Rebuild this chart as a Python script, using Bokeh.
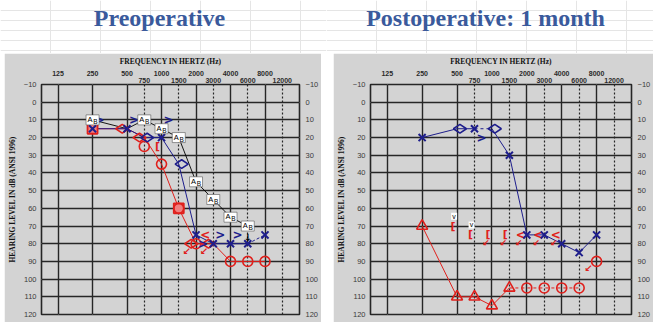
import math
from bokeh.plotting import figure
from bokeh.models import ColumnDataSource, Range1d, LinearAxis, FixedTicker, Grid, Spacer
from bokeh.layouts import row, column
from bokeh.core.properties import value
from bokeh.embed import file_html
from bokeh.resources import INLINE

# ---------------- tick labels / texts ----------------
octave_freqs = [125, 250, 500, 1000, 2000, 4000, 8000]
half_freqs = [750, 1500, 3000, 6000, 12000]
db_ticks = list(range(-10, 121, 10))
panel_titles = ["Preoperative", "Postoperative: 1 month"]
x_title = "FREQUENCY IN HERTZ (Hz)"
y_title = "HEARING LEVEL IN dB (ANSI 1996)"

# ---------------- Preoperative ----------------
pre_left_line_freq = [250, 500, 750, 1000, 1500, 2000, 3000, 4000, 6000]
pre_left_line_db = [15, 15, 20, 20, 35, 75, 80, 80, 80]
pre_left_dash_freq = [6000, 8000]
pre_left_dash_db = [80, 75]
pre_left_x_freq = [250, 500, 1000, 2000, 3000, 4000, 6000, 8000]
pre_left_x_db = [15, 15, 20, 75, 80, 80, 80, 75]
pre_left_diamond_freq = [750, 1500]
pre_left_diamond_db = [20, 35]
pre_left_bone_freq = [250, 500, 1000, 2000, 3000, 4000]
pre_left_bone_db = [10, 10, 10, 80, 75, 75]

pre_right_line_freq = [250, 500, 750, 1000, 1500, 2000, 3000, 4000, 6000, 8000]
pre_right_line_db = [15, 15, 20, 35, 60, 80, 80, 90, 90, 90]
pre_right_circle_freq = [750, 1000, 1500, 2000, 4000, 6000, 8000]
pre_right_circle_db = [25, 35, 60, 80, 90, 90, 90]
pre_right_square_freq = [250, 1500]
pre_right_square_db = [15, 60]
pre_right_diamond_freq = [500, 750, 2000, 3000]
pre_right_diamond_db = [15, 20, 80, 80]
pre_right_bone_freq = [3000]
pre_right_bone_db = [75]
pre_right_mbone_freq = [1000]
pre_right_mbone_db = [25]
pre_right_nr_freq = [2000, 3000]
pre_right_nr_db = [80, 80]

pre_aided_line_freq = [250, 500, 750, 1000, 1500, 2000, 3000, 4000, 6000]
pre_aided_line_db = [10, 15, 10, 15, 20, 45, 55, 65, 70]
pre_aided_box_freq = [250, 750, 1000, 1500, 2000, 3000, 4000, 6000]
pre_aided_box_db = [10, 10, 15, 20, 45, 55, 65, 70]
pre_aided_nr_freq = [6000]
pre_aided_nr_db = [70]

# ---------------- Postoperative: 1 month ----------------
post_left_line_freq = [250, 500, 750]
post_left_line_db = [20, 15, 15]
post_left_dash_freq = [750, 1000]
post_left_dash_db = [15, 15]
post_left_line2_freq = [1000, 1500, 2000, 3000, 4000, 6000, 8000]
post_left_line2_db = [15, 30, 75, 75, 80, 85, 75]
post_left_x_freq = [250, 750, 1500, 2000, 3000, 4000, 6000, 8000]
post_left_x_db = [20, 15, 30, 75, 75, 80, 85, 75]
post_left_diamond_freq = [500, 1000]
post_left_diamond_db = [15, 15]
post_left_bone_freq = [750]
post_left_bone_db = [20]

post_right_tri_freq = [250, 500, 750, 1000, 1500]
post_right_tri_db = [70, 110, 110, 115, 105]
post_right_dash_freq = [1500, 2000, 3000, 4000, 6000]
post_right_dash_db = [105, 105, 105, 105, 105]
post_right_circle_freq = [2000, 3000, 4000, 6000, 8000]
post_right_circle_db = [105, 105, 105, 105, 90]
post_right_nr_freq = [8000]
post_right_nr_db = [90]
post_right_mbone_freq = [500, 750, 1000, 1500]
post_right_mbone_db = [70, 75, 75, 75]
post_right_v_freq = [500, 750]
post_right_v_db = [70, 75]
post_right_mbone_nr_freq = [1000, 1500]
post_right_mbone_nr_db = [75, 75]
post_right_bone_freq = [2000, 3000, 4000]
post_right_bone_db = [75, 75, 75]

# ---------------- styling ----------------
RED = "#e0201c"
BLUE = "#1e1e8c"
GRAY = "#d3d3d3"
DARK = "#262626"
TITLE_BLUE = "#3a5a9c"
X0, X1 = -0.48, 7.0
Y0, Y1 = 120, -10


def pos(freqs):
    return [round(2 * math.log2(f / 125)) / 2 for f in freqs]


def audiogram(width, height, bl, br, bt, bb):
    p = figure(width=width, height=height, output_backend="svg", toolbar_location=None,
               x_range=Range1d(X0, X1), y_range=Range1d(Y0, Y1),
               x_axis_location=None, y_axis_location=None, title=None,
               min_border_left=bl, min_border_right=br, min_border_top=bt, min_border_bottom=bb)
    p.background_fill_color = GRAY
    p.border_fill_color = GRAY
    p.outline_line_color = DARK
    p.outline_line_width = 1.6

    p.add_layout(Grid(dimension=0, ticker=FixedTicker(ticks=pos(octave_freqs)),
                      grid_line_color=DARK, grid_line_width=1.4))
    p.add_layout(Grid(dimension=0, ticker=FixedTicker(ticks=pos(half_freqs)),
                      grid_line_color=DARK, grid_line_width=1.2, grid_line_dash="2 2"))
    p.add_layout(Grid(dimension=1, ticker=FixedTicker(ticks=db_ticks),
                      grid_line_color=DARK, grid_line_width=1.4))

    common = dict(axis_line_color=None, major_tick_line_color=None, minor_tick_line_color=None,
                  major_tick_out=0, major_tick_in=0)
    ly = LinearAxis(ticker=FixedTicker(ticks=db_ticks), axis_label=y_title,
                    major_label_text_font="Liberation Sans", major_label_text_font_size="7.5px",
                    major_label_text_color="#3a3a3a", major_label_standoff=5,
                    axis_label_text_font="Liberation Serif", axis_label_text_font_style="bold",
                    axis_label_text_font_size="7.5px", axis_label_text_color="#111111",
                    axis_label_standoff=4, **common)
    p.add_layout(ly, "left")
    ry = LinearAxis(ticker=FixedTicker(ticks=db_ticks),
                    major_label_text_font="Liberation Sans", major_label_text_font_size="7.5px",
                    major_label_text_color="#3a3a3a", major_label_standoff=6, **common)
    p.add_layout(ry, "right")

    hx = pos(half_freqs)
    inner = LinearAxis(ticker=FixedTicker(ticks=hx),
                       major_label_overrides={k: str(f) for k, f in zip(hx, half_freqs)},
                       major_label_text_font="Liberation Sans", major_label_text_font_style="bold",
                       major_label_text_font_size="7px", major_label_text_color="#2a2a2a",
                       major_label_standoff=2, **common)
    p.add_layout(inner, "above")
    ox = pos(octave_freqs)
    outer = LinearAxis(ticker=FixedTicker(ticks=ox),
                       major_label_overrides={k: str(f) for k, f in zip(ox, octave_freqs)},
                       major_label_text_font="Liberation Sans", major_label_text_font_style="bold",
                       major_label_text_font_size="7px", major_label_text_color="#2a2a2a",
                       major_label_standoff=-1, axis_label=x_title,
                       axis_label_text_font="Liberation Serif", axis_label_text_font_style="bold",
                       axis_label_text_font_size="7.5px", axis_label_text_color="#111111",
                       axis_label_standoff=2, **common)
    p.add_layout(outer, "above")
    return p


def px_per_oct(p):
    return (p.width - p.min_border_left - p.min_border_right) / (X1 - X0)


def px_per_db(p):
    return (p.height - p.min_border_top - p.min_border_bottom) / (Y0 - Y1)


def line(p, f, d, color, dash="solid", w=1.0):
    p.line(x=pos(f), y=d, line_color=color, line_width=w, line_dash=dash)


def marks(p, f, d, marker, color, size, w=1.6, dx=0.0, angle=0.0):
    k = px_per_oct(p)
    xs = [v + dx / k for v in pos(f)]
    p.scatter(x=xs, y=d, marker=marker, size=size, line_color=color, fill_color=None,
              line_width=w, angle=angle)


def sym(p, f, d, s, color, size="12px", dx=0, dy=0, font="DejaVu Sans", style="bold"):
    src = ColumnDataSource(dict(x=pos(f), y=d, t=[s] * len(f)))
    p.text(x="x", y="y", text="t", source=src, x_offset=dx, y_offset=dy,
           text_align="center", text_baseline="middle", text_color=color,
           text_font=value(font), text_font_style=style, text_font_size=size)


def box(p, f, d, w, h, dx=0, dy=0, line_color=None):
    kx, ky = px_per_oct(p), px_per_db(p)
    p.rect(x=[v + dx / kx for v in pos(f)], y=[v + dy / ky for v in d], width=w, height=h,
           width_units="screen", height_units="screen", fill_color="white",
           line_color=line_color, line_width=0.6)


def aided_boxes(p, f, d):
    box(p, f, d, 13, 10, line_color="#555555")
    sym(p, f, d, "A", "black", size="7.5px", dx=-2.5, dy=-0.5, font="Liberation Sans", style="normal")
    sym(p, f, d, "B", "black", size="6.5px", dx=2.8, dy=1.5, font="Liberation Sans", style="normal")


# ---------------- Preoperative panel ----------------
pre = audiogram(317, 269, 31, 17, 29, 6)
line(pre, pre_aided_line_freq, pre_aided_line_db, "black", w=0.9)
line(pre, pre_right_line_freq, pre_right_line_db, RED, w=1.0)
line(pre, pre_left_line_freq, pre_left_line_db, BLUE, w=1.0)
line(pre, pre_left_dash_freq, pre_left_dash_db, BLUE, dash="3 2", w=1.0)
pre.scatter(x=pos(pre_right_square_freq), y=pre_right_square_db, marker="square", size=10,
            line_color=RED, fill_color="#f08080", line_width=1.8)
marks(pre, pre_right_circle_freq, pre_right_circle_db, "circle", RED, 10, w=1.6)
marks(pre, pre_right_diamond_freq, pre_right_diamond_db, "diamond", RED, 13, w=1.6, dx=-5, angle=math.pi / 2)
sym(pre, pre_right_bone_freq, pre_right_bone_db, "<", RED, dx=-8)
sym(pre, pre_right_mbone_freq, pre_right_mbone_db, "[", RED, size="11px", dx=-4)
sym(pre, pre_right_nr_freq, pre_right_nr_db, "↙", RED, size="10px", dx=-9, dy=8)
marks(pre, pre_left_diamond_freq, pre_left_diamond_db, "diamond", BLUE, 13, w=1.6, dx=3, angle=math.pi / 2)
marks(pre, pre_left_x_freq, pre_left_x_db, "x", BLUE, 10, w=2.0)
sym(pre, pre_left_bone_freq, pre_left_bone_db, ">", BLUE, dx=7)
aided_boxes(pre, pre_aided_box_freq, pre_aided_box_db)
sym(pre, pre_aided_nr_freq, pre_aided_nr_db, "↓", "black", size="10px", dy=11)

# ---------------- Postoperative panel ----------------
post = audiogram(320, 269, 32, 18, 27, 8)
line(post, post_right_tri_freq, post_right_tri_db, RED, w=1.0)
line(post, post_right_dash_freq, post_right_dash_db, RED, dash="3 3", w=1.0)
line(post, post_left_line_freq, post_left_line_db, BLUE, w=1.0)
line(post, post_left_dash_freq, post_left_dash_db, BLUE, dash="3 3", w=1.0)
line(post, post_left_line2_freq, post_left_line2_db, BLUE, w=1.0)
marks(post, post_right_tri_freq, post_right_tri_db, "triangle", RED, 11, w=1.6)
marks(post, post_right_circle_freq, post_right_circle_db, "circle", RED, 10, w=1.6)
sym(post, post_right_nr_freq, post_right_nr_db, "↙", RED, size="10px", dx=-8, dy=7)
sym(post, post_right_mbone_freq, post_right_mbone_db, "[", RED, size="11px", dx=-4)
sym(post, post_right_mbone_nr_freq, post_right_mbone_nr_db, "↙", RED, size="9px", dx=-6, dy=8)
sym(post, post_right_bone_freq, post_right_bone_db, "<", RED, dx=-6)
sym(post, post_right_bone_freq, post_right_bone_db, "↙", RED, size="9px", dx=-8, dy=8)
box(post, post_right_v_freq, post_right_v_db, 6, 7, dx=-3, dy=-10)
sym(post, post_right_v_freq, post_right_v_db, "v", "black", size="7px", dx=-3, dy=-10,
    font="Liberation Sans", style="normal")
marks(post, post_left_diamond_freq, post_left_diamond_db, "diamond", BLUE, 13, w=1.6, dx=3, angle=math.pi / 2)
marks(post, post_left_x_freq, post_left_x_db, "x", BLUE, 10, w=2.0)
sym(post, post_left_bone_freq, post_left_bone_db, ">", BLUE, dx=7)


# ---------------- titles ----------------
def title_fig(width, text, cx):
    t = figure(width=width, height=53, output_backend="svg", toolbar_location=None,
               x_range=Range1d(0, width), y_range=Range1d(53, 0), title=None,
               x_axis_location=None, y_axis_location=None, min_border=0)
    t.outline_line_color = None
    t.background_fill_color = "white"
    t.border_fill_color = "white"
    src = ColumnDataSource(dict(x=[cx], y=[17], t=[text]))
    t.text(x="x", y="y", text="t", source=src, text_align="center", text_baseline="middle",
           text_color=TITLE_BLUE, text_font=value("Liberation Serif"), text_font_style="bold",
           text_font_size="24px")
    return t


t1 = title_fig(326, panel_titles[0], 159)
t2 = title_fig(327, panel_titles[1], 159)

layout = column(row(t1, t2), row(Spacer(width=4, height=269), pre, Spacer(width=12, height=269), post))

with open("out.html", "w") as fh:
    fh.write(file_html(layout, INLINE))
